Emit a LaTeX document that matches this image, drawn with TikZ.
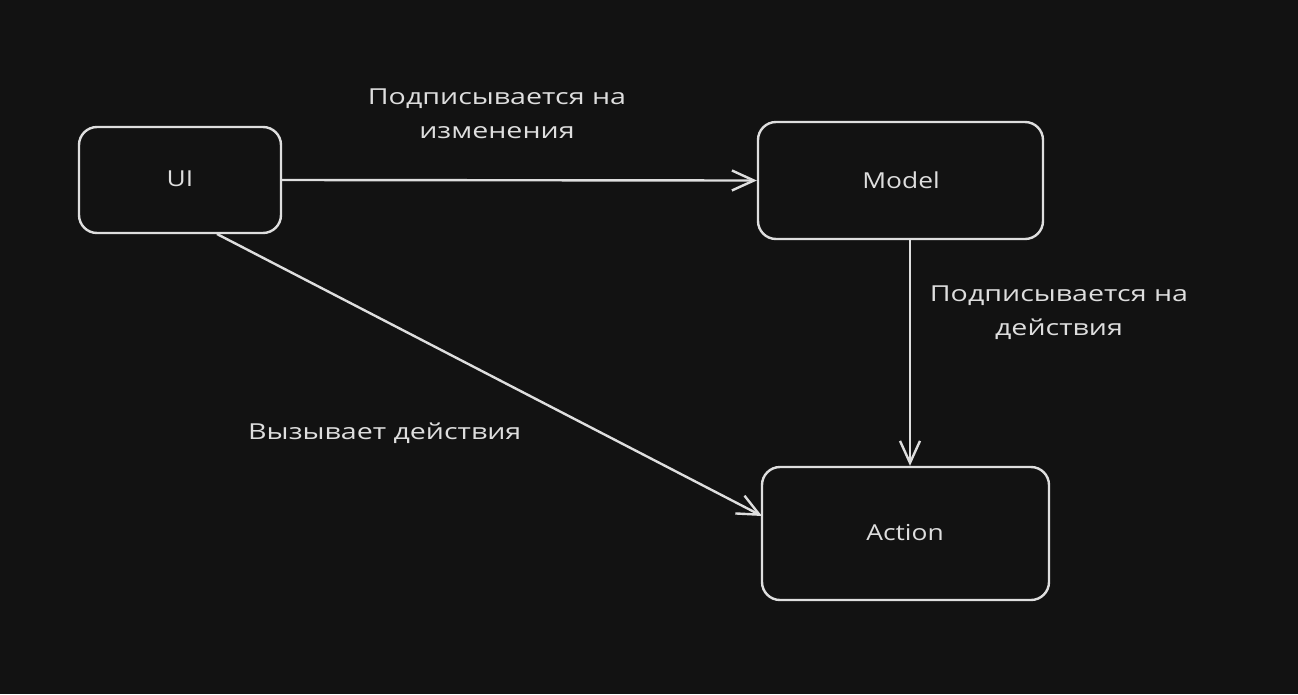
\documentclass[tikz,border=0pt]{standalone}
\usepackage{fontspec}
\setmainfont[FakeStretch=1.3]{Open Sans}
\newfontfamily\boxfont[FakeStretch=1.2]{Open Sans}
\usetikzlibrary{arrows.meta}
\definecolor{bg}{HTML}{121212}
\definecolor{ink}{HTML}{DEDEDE}
\tikzset{
  box/.style={draw=ink, line width=2.4pt, rounded corners=18pt, inner sep=0pt},
  conn/.style={draw=ink, line width=2.4pt, -{Straight Barb[length=22pt,width=20pt,line width=2.4pt]}},
  lbl/.style={text=ink, font=\fontsize{22}{34}\selectfont, align=center, inner sep=0pt},
  boxtxt/.style={text=ink, font=\boxfont\fontsize{22}{24}\selectfont, inner sep=0pt}
}
\begin{document}
\begin{tikzpicture}[x=1pt,y=-1pt]
\useasboundingbox[fill=bg] (0,0) rectangle (1298,694);
\node[box, minimum width=202pt, minimum height=106pt] (ui) at (180,180) {};
\node[box, minimum width=285pt, minimum height=117pt] (model) at (900.5,180.5) {};
\node[box, minimum width=287pt, minimum height=133pt] (action) at (905.5,533.5) {};
\node[boxtxt] (uit) at (180,179) {UI};
\node[boxtxt] (modelt) at (901,180) {Model};
\node[boxtxt] (actiont) at (905,533) {Action};
\coordinate (uiS) at (217,234);
\coordinate (acW) at (762,516);
\draw[conn] (ui.east) -- (model.west);
\draw[conn] (uiS) -- (acW);
\draw[conn] (model.south -| 910,0) -- (action.north -| 910,0);
\node[lbl] (l1) at (497,114) {Подписывается на\\изменения};
\node[lbl] (l2) at (1059,313) {Подписывается на\\действия};
\node[lbl, anchor=west] (l3) at (248,433) {Вызывает действия};
\end{tikzpicture}
\end{document}
